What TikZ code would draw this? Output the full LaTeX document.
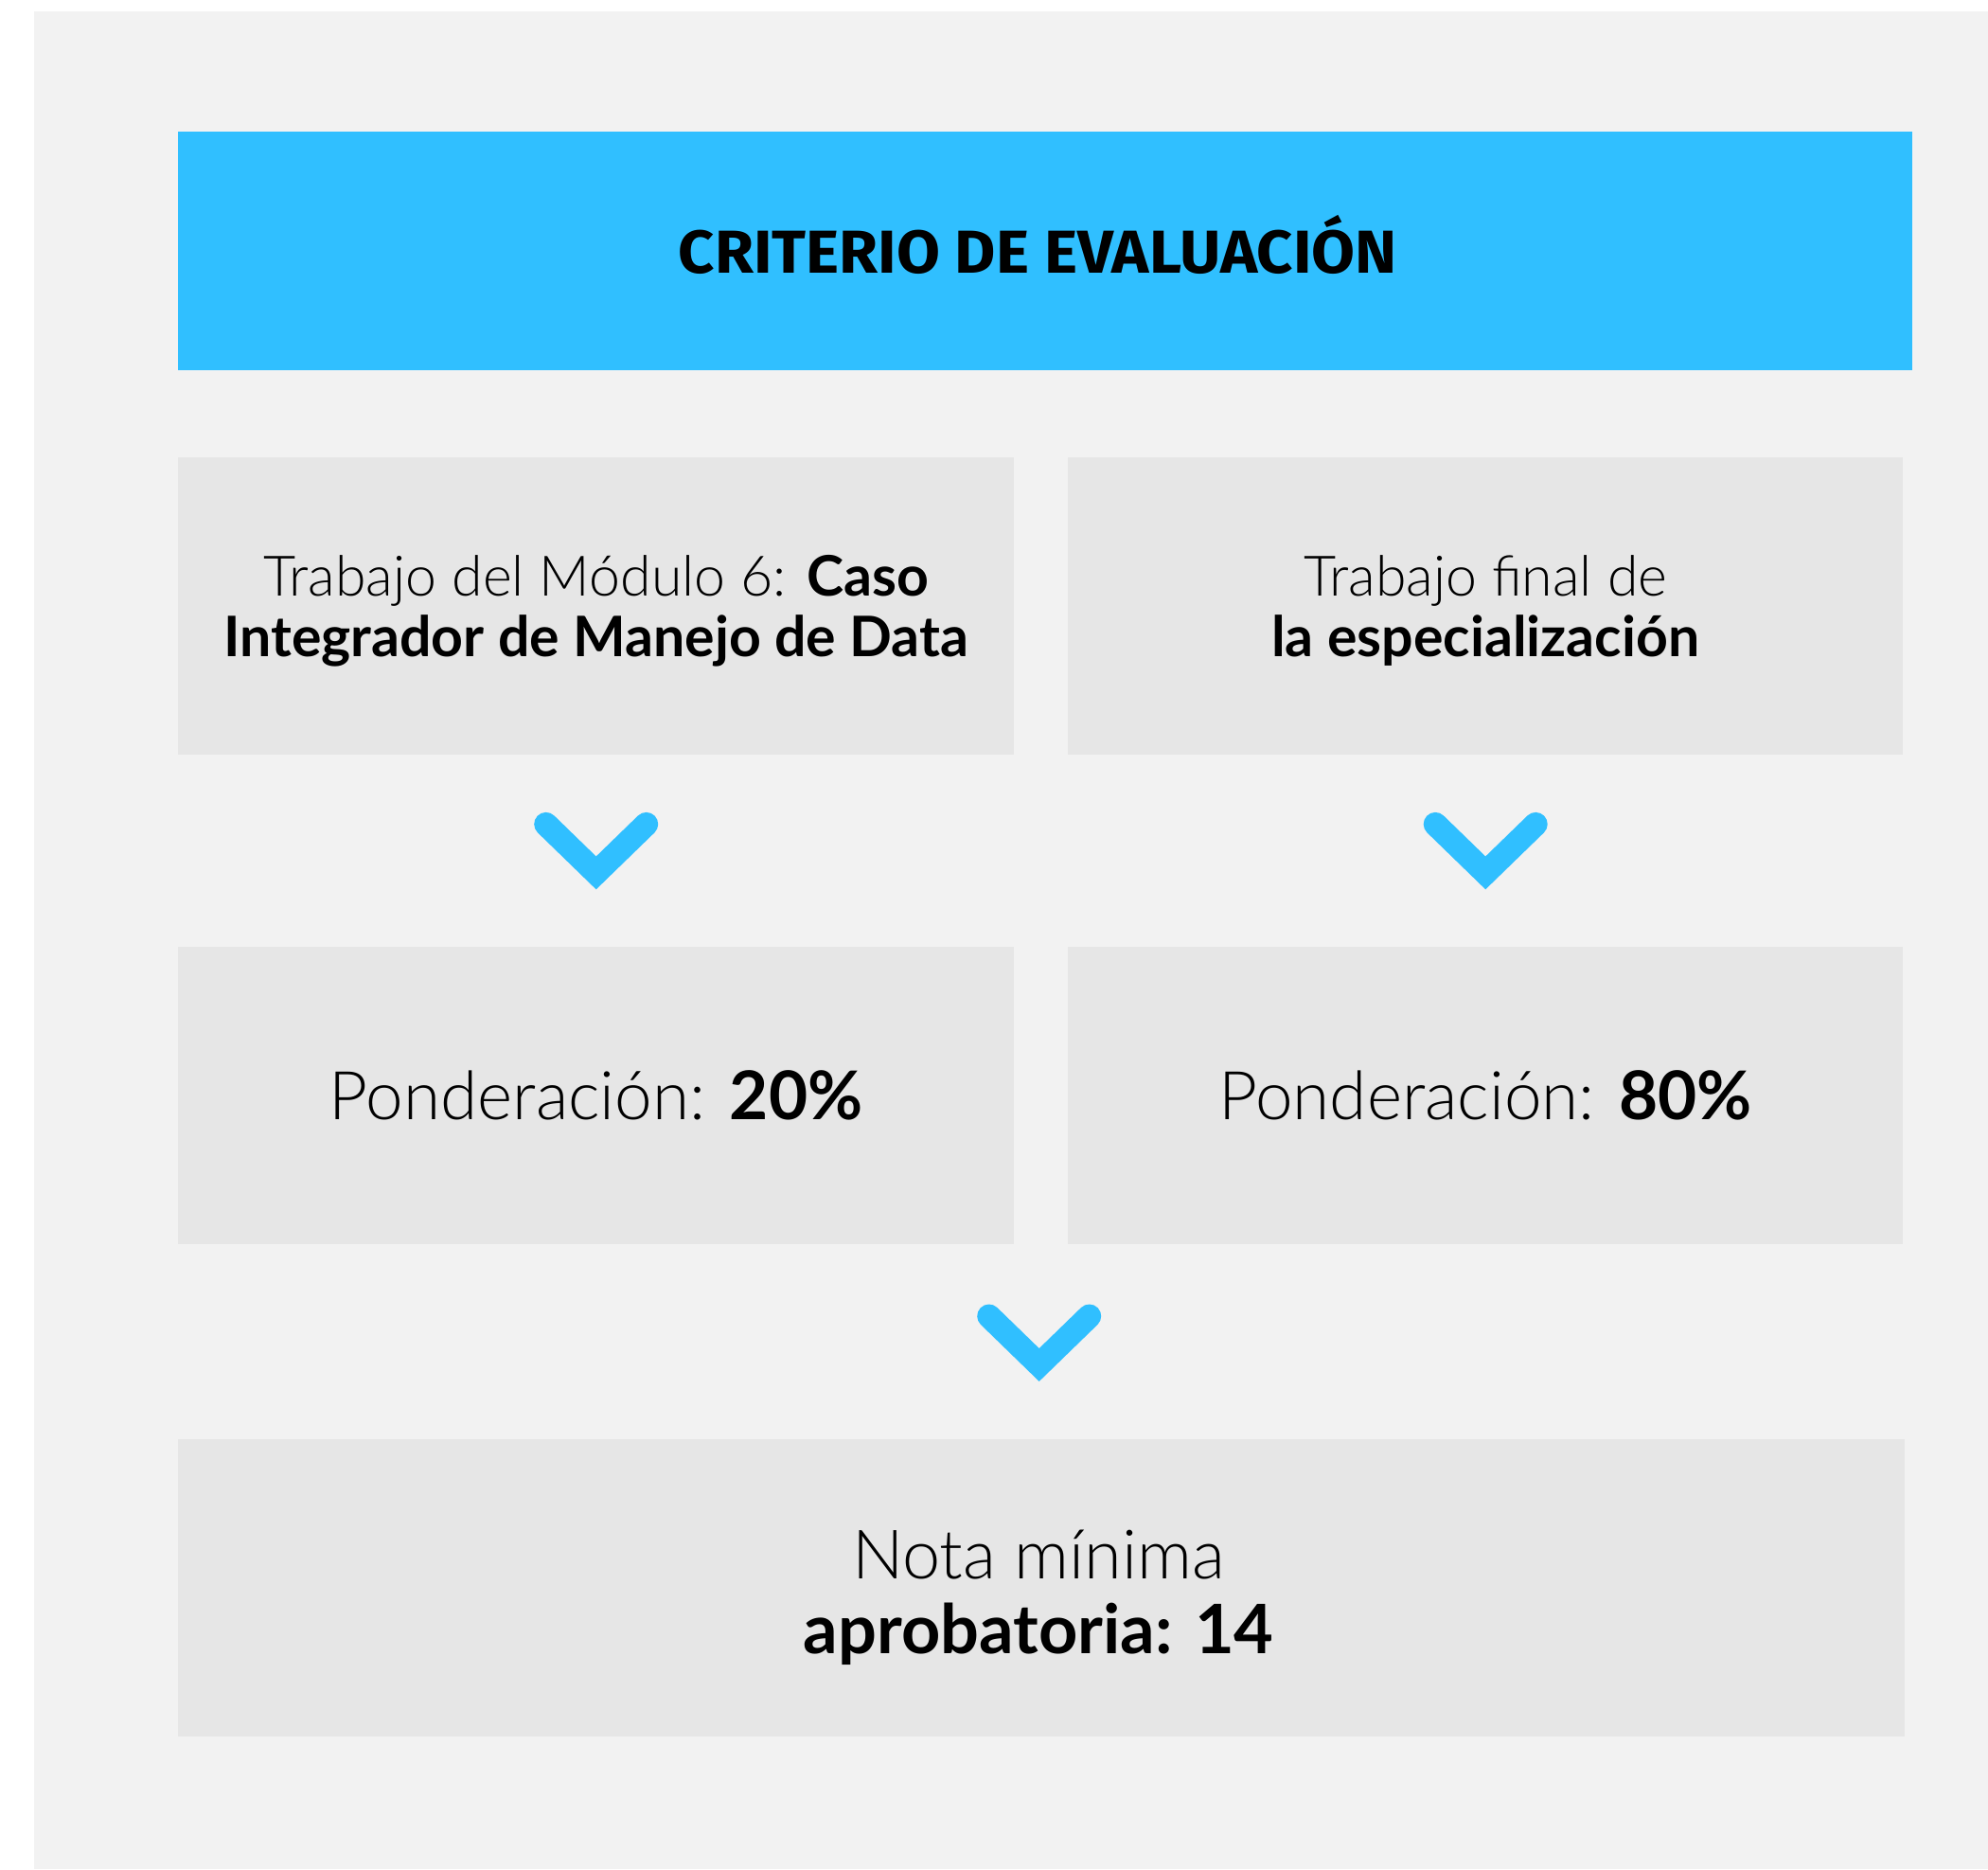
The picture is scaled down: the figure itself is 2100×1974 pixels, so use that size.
\documentclass[tikz,border=0pt]{standalone}
\usepackage{fontspec}
\setmainfont{Lato}[UprightFont=* Light, BoldFont=* Bold]
\newfontfamily\titlefont{Fira Sans}[UprightFont=* Bold]
\usetikzlibrary{calc}
\definecolor{skyblue}{RGB}{48,191,255}
\definecolor{panelgray}{RGB}{242,242,242}
\definecolor{boxgray}{RGB}{230,230,230}
\tikzset{
  card/.style={fill=boxgray, draw=none, anchor=north west, inner sep=0pt},
  titlecard/.style={fill=skyblue, draw=none, anchor=north west, inner sep=0pt},
  label/.style={inner sep=0pt, align=center, text=black},
  chev/.style={draw=skyblue, line width=25pt, line cap=round, line join=miter},
  small/.style={font=\fontsize{59}{64}\selectfont},
  big/.style={font=\fontsize{71}{76}\selectfont},
  nota/.style={font=\fontsize{72}{79}\selectfont},
}
\begin{document}
\begin{tikzpicture}[x=1pt,y=-1pt]
\useasboundingbox (0,0) rectangle (2100,1974);
\fill[white] (0,0) rectangle (2100,1974);
\fill[panelgray] (36,12) rectangle (2100,1974);
\node[titlecard, minimum width=1832pt, minimum height=252pt] (title) at (188,139) {};
\node[card, minimum width=883pt, minimum height=314pt] (b1) at (188,483) {};
\node[card, minimum width=882pt, minimum height=314pt] (b2) at (1128,483) {};
\node[card, minimum width=883pt, minimum height=314pt] (b3) at (188,1000) {};
\node[card, minimum width=882pt, minimum height=314pt] (b4) at (1128,1000) {};
\node[card, minimum width=1824pt, minimum height=314pt] (b5) at (188,1520) {};
\node[label, anchor=base] (t0) at ($(title.center)+(-8,23)$)
  {\titlefont\fontsize{64}{64}\selectfont\scalebox{1.04}[1]{CRITERIO DE EVALUACIÓN}};
\node[label, small] (t1) at ($(b1.center)+(0,5)$)
  {Trabajo del Módulo 6: \textbf{Caso}\\\textbf{Integrador de Manejo de Data}};
\node[label, small] (t2) at ($(b2.center)+(0,5)$)
  {Trabajo final de\\\textbf{la especialización}};
\node[label, big] (t3) at ($(b3.center)+(0,0)$)
  {Ponderación: \textbf{20\%}};
\node[label, big] (t4) at ($(b4.center)+(0,0)$)
  {Ponderación: \textbf{80\%}};
\node[label, nota] (t5) at ($(b5.center)+(-3,10)$)
  {Nota mínima\\\textbf{aprobatoria: 14}};
\draw[chev] ($(b1.south)+(-53,73)$) -- ++(53,51.5) -- ++(53,-51.5);
\draw[chev] ($(b2.south)+(-53,73)$) -- ++(53,51.5) -- ++(53,-51.5);
\draw[chev] ($(b3.south east)!0.5!(b4.south west)+(-55,75.6)$) -- ++(53,51.5) -- ++(53,-51.5);
\end{tikzpicture}
\end{document}
